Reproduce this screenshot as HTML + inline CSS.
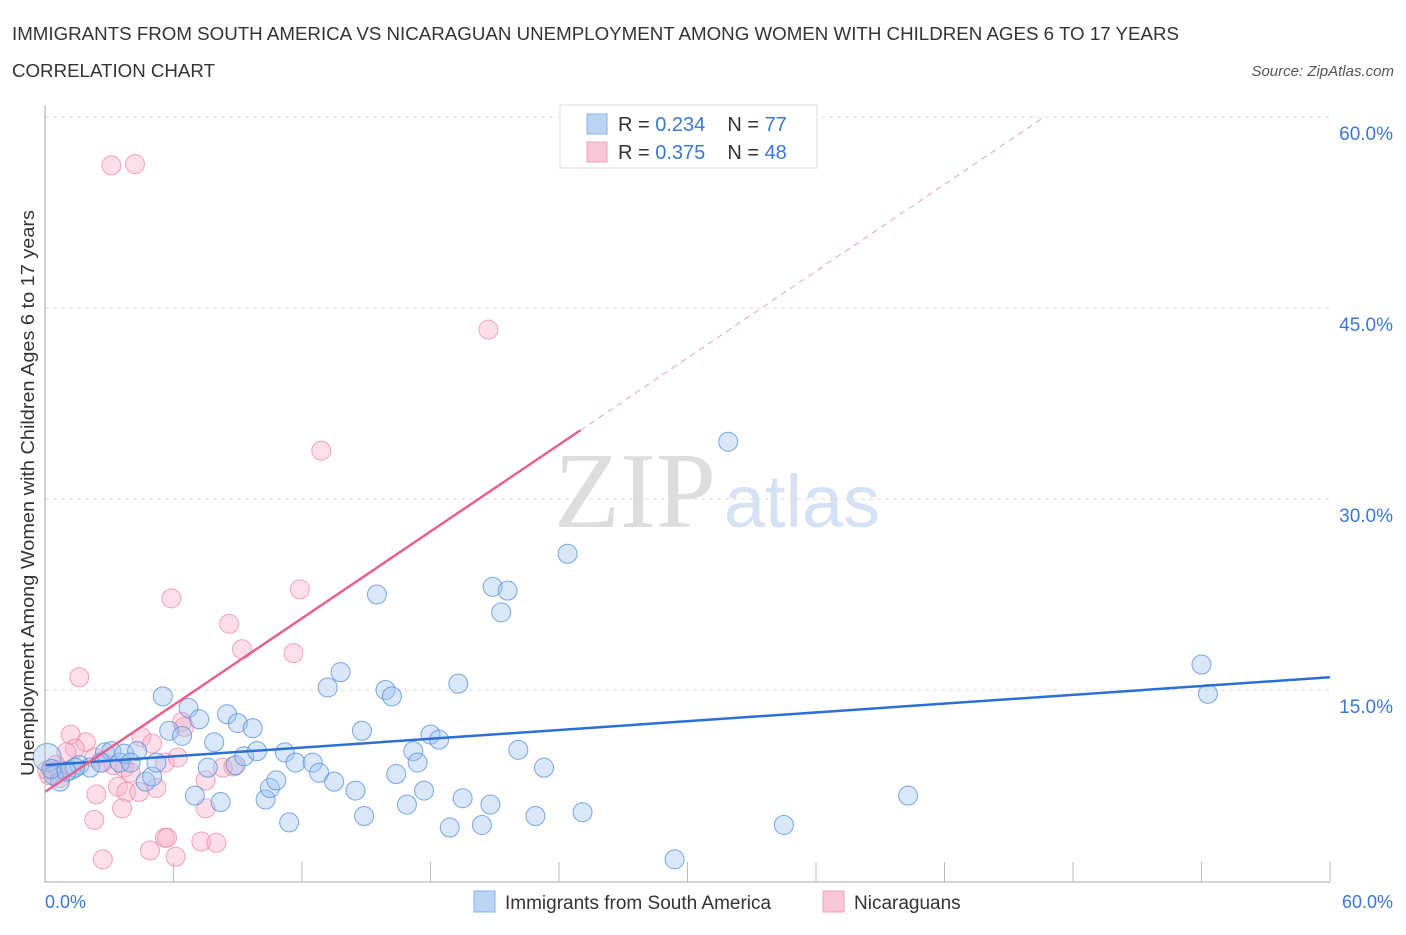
<!DOCTYPE html>
<html><head><meta charset="utf-8"><style>
body{margin:0;background:#fff;font-family:"Liberation Sans",sans-serif}
</style></head><body>
<svg width="1406" height="930" viewBox="0 0 1406 930" xmlns="http://www.w3.org/2000/svg" font-family="Liberation Sans, sans-serif">
<text x="12" y="40" font-size="18" fill="#333" textLength="1167" lengthAdjust="spacingAndGlyphs">IMMIGRANTS FROM SOUTH AMERICA VS NICARAGUAN UNEMPLOYMENT AMONG WOMEN WITH CHILDREN AGES 6 TO 17 YEARS</text>
<text x="12" y="77" font-size="18" fill="#333" textLength="203" lengthAdjust="spacingAndGlyphs">CORRELATION CHART</text>
<text x="1394" y="76" font-size="15" fill="#555" font-style="italic" text-anchor="end">Source: ZipAtlas.com</text>
<g id="grid"></g>
<text x="635" y="527" font-size="108" fill="#ddd" font-family="Liberation Serif, serif" text-anchor="middle">ZIP</text>
<text x="802" y="527" font-size="74" fill="#d4e2f4" text-anchor="middle">atlas</text>
<g id="pts"></g>
<g id="lines"></g>
<line x1="45" y1="105" x2="45" y2="882" stroke="#aaa"/>
<line x1="45" y1="882" x2="1330" y2="882" stroke="#aaa"/>
<text transform="translate(34,776) rotate(-90)" font-size="18" fill="#333" textLength="566" lengthAdjust="spacingAndGlyphs">Unemployment Among Women with Children Ages 6 to 17 years</text>
<text x="45" y="908" font-size="18" fill="#3a78d4">0.0%</text>
<text x="1393" y="908" font-size="18" fill="#3a78d4" text-anchor="end">60.0%</text>
<g>
<rect x="560" y="105" width="257" height="63" fill="#fff" stroke="#ddd"/>
<rect x="587" y="114" width="20" height="20" fill="#bcd4f4" stroke="#8ab0e8"/>
<text x="618" y="131" font-size="20" fill="#333">R = <tspan fill="#3a78d4">0.234</tspan><tspan dx="22">N = </tspan><tspan fill="#3a78d4">77</tspan></text>
<rect x="587" y="142" width="20" height="20" fill="#f9c6d6" stroke="#f0a0b8"/>
<text x="618" y="159" font-size="20" fill="#333">R = <tspan fill="#3a78d4">0.375</tspan><tspan dx="22">N = </tspan><tspan fill="#3a78d4">48</tspan></text>
</g>
<g>
<rect x="474" y="891" width="21" height="21" fill="#bcd4f4" stroke="#8ab0e8"/>
<text x="505" y="909" font-size="19" fill="#333">Immigrants from South America</text>
<rect x="823" y="891" width="21" height="21" fill="#f9c6d6" stroke="#f0a0b8"/>
<text x="854" y="909" font-size="19" fill="#333">Nicaraguans</text>
</g>
</svg>
<script>
const yTicks=[15,30,45,60];
const yTickLabels=["15.0%","30.0%","45.0%","60.0%"];
const xTicks=[0,6,12,18,24,30,36,42,48,54,60];
const blueX=[0.1,0.7,1.2,0.4,1.6,2.1,2.8,3.1,3.5,3.7,4.3,4.7,5.0,5.2,5.5,5.8,6.4,6.7,7.0,7.2,7.6,7.9,8.2,8.5,8.9,9.0,9.3,9.7,9.9,10.3,10.5,10.8,11.2,11.4,11.7,12.5,12.8,13.2,13.5,13.8,14.5,14.8,14.9,15.5,15.9,16.2,16.4,16.9,17.2,17.4,17.7,18.0,18.4,18.9,19.3,19.5,20.4,20.8,20.9,21.3,21.6,22.1,22.9,23.3,24.4,25.1,29.4,31.9,34.5,40.3,54.0,54.3,1.4,2.6,4.0,0.3,1.0];
const blueY=[9.7,7.8,8.7,8.3,9.1,8.9,10.1,10.2,9.3,10.0,10.2,7.8,8.2,9.3,14.5,11.8,11.4,13.6,6.7,12.7,8.9,10.9,6.2,13.1,9.1,12.4,9.8,12.0,10.2,6.4,7.3,7.9,10.1,4.6,9.3,9.3,8.5,15.2,7.8,16.4,7.1,11.8,5.1,22.5,15.0,14.5,8.4,6.0,10.2,9.3,7.1,11.5,11.1,4.2,15.5,6.5,4.4,6.0,23.1,21.1,22.8,10.3,5.1,8.9,25.7,5.4,1.7,34.5,4.4,6.7,17.0,14.7,8.9,9.3,9.3,8.8,8.6];
const pinkX=[3.1,4.2,20.7,12.9,11.9,5.9,8.6,9.2,11.6,1.6,1.2,1.9,1.4,1.0,0.6,0.2,0.5,2.3,2.7,3.2,3.7,4.5,5.0,5.6,6.2,6.4,6.5,4.0,3.4,2.4,3.8,4.4,5.2,2.3,3.6,7.5,8.3,8.8,5.6,5.7,4.9,6.1,2.7,7.3,8.0,7.5,0.7,0.1];
const pinkY=[56.2,56.3,43.3,33.8,22.9,22.2,20.2,18.2,17.9,16.0,11.5,10.9,10.4,10.1,8.7,8.3,9.1,9.7,9.3,9.1,8.9,11.3,10.8,9.3,9.7,12.5,12.1,8.5,7.4,6.8,7.0,7.0,7.3,4.8,5.7,7.9,8.9,9.0,3.4,3.4,2.4,1.9,1.7,3.1,3.0,5.7,8.1,8.7];
const blueTrend=[9.1,16.0];
const pinkTrend=[7.0,35.4];
const pinkSolidEnd=25;
const X=v=>45+v*(1285/60), Y=v=>881-v*(764/60);
const NS="http://www.w3.org/2000/svg";
function mk(t,a,p){const e=document.createElementNS(NS,t);for(const k in a)e.setAttribute(k,a[k]);p.appendChild(e);return e;}
const grid=document.getElementById('grid');
yTicks.forEach((t,i)=>{
 const l=mk('line',{x1:45,x2:1330,y1:Y(t),y2:Y(t),stroke:'#ddd','stroke-dasharray':'4,4'},grid);
 
 
 const tx=mk('text',{x:1393,y:Y(t)+23,'font-size':19,fill:'#3a78d4','text-anchor':'end'},grid);
 tx.textContent=yTickLabels[i];
 
 
});
xTicks.forEach(t=>{
 const l=mk('line',{x1:X(t),x2:X(t),y1:862,y2:882,stroke:'#bbb'},grid);
 
 
});
const pts=document.getElementById('pts');
pinkX.forEach((x,i)=>{
 const c=mk('circle',{cx:X(x),cy:Y(pinkY[i]),r:9.5,fill:'rgba(248,176,198,0.4)',stroke:'rgba(236,130,160,0.7)','stroke-width':1},pts);
 
 
});
blueX.forEach((x,i)=>{
 const c=mk('circle',{cx:X(x),cy:Y(blueY[i]),r:i==0?14:9.5,fill:'rgba(160,196,240,0.4)',stroke:'rgba(80,140,220,0.75)','stroke-width':1},pts);
 
 
});
const lines=document.getElementById('lines');
const bl=mk('line',{x1:X(0),y1:Y(blueTrend[0]),x2:X(60),y2:Y(blueTrend[1]),stroke:'#2a6fd6','stroke-width':2.5},lines);


const slope=(pinkTrend[1]-pinkTrend[0])/pinkSolidEnd;
const pl=mk('line',{x1:X(0),y1:Y(pinkTrend[0]),x2:X(pinkSolidEnd),y2:Y(pinkTrend[1]),stroke:'#e8608c','stroke-width':2.5},lines);


const xEnd=(60-pinkTrend[0])/slope;
const pd=mk('line',{x1:X(pinkSolidEnd),y1:Y(pinkTrend[1]),x2:X(xEnd),y2:Y(60),stroke:'#eaa0b8','stroke-width':1,'stroke-dasharray':'6,5'},lines);


</script>
</body></html>
